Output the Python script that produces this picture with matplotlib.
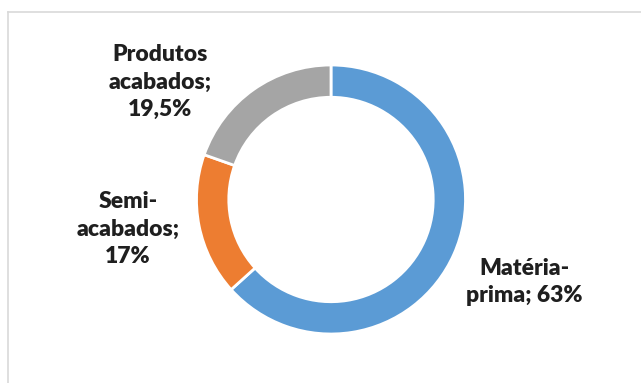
import matplotlib.pyplot as plt
from matplotlib.lines import Line2D

# Stock split by stage
categories = ["Matéria-\nprima", "Semi-\nacabados", "Produtos\nacabados"]
shares = [63, 17, 19.5]
share_labels = ["63%", "17%", "19,5%"]
colors = ["#5B9BD5", "#ED7D31", "#A5A5A5"]

fig = plt.figure(figsize=(6.41, 3.83), dpi=100)
fig.patch.set_facecolor("white")

# chart frame (only top and left edges visible)
fig.add_artist(Line2D([8 / 641, 1], [1 - 11.5 / 383] * 2, color="#D9D9D9", lw=1.2,
                      transform=fig.transFigure))
fig.add_artist(Line2D([8 / 641] * 2, [0, 1 - 11.5 / 383], color="#D9D9D9", lw=1.2,
                      transform=fig.transFigure))

# axes sized so the ring sits where we want it
cx, cy, r = 331, 199.5, 134.5
ax = fig.add_axes([(cx - r) / 641, (383 - cy - r) / 383, 2 * r / 641, 2 * r / 383])
ax.pie(shares, colors=colors, startangle=90, counterclock=False, radius=1,
       wedgeprops=dict(width=0.24, edgecolor="white", linewidth=2))
ax.set_xlim(-1, 1)
ax.set_ylim(-1, 1)
ax.set_aspect("equal")
ax.axis("off")

# label positions around the ring; the big slice keeps its value on the same line
label_pos = [(1.435, -0.613), (-1.51, -0.22), (-1.27, 0.874)]
separators = ["; ", ";\n", ";\n"]
for cat, val, sep, (x, y) in zip(categories, share_labels, separators, label_pos):
    ax.text(x, y, cat + sep + val, ha="center", va="center", fontsize=16.5,
            fontweight="heavy", family="Lato", color="#1f1f1f", linespacing=1.4,
            clip_on=False)

fig.savefig("out.png", dpi=100)
